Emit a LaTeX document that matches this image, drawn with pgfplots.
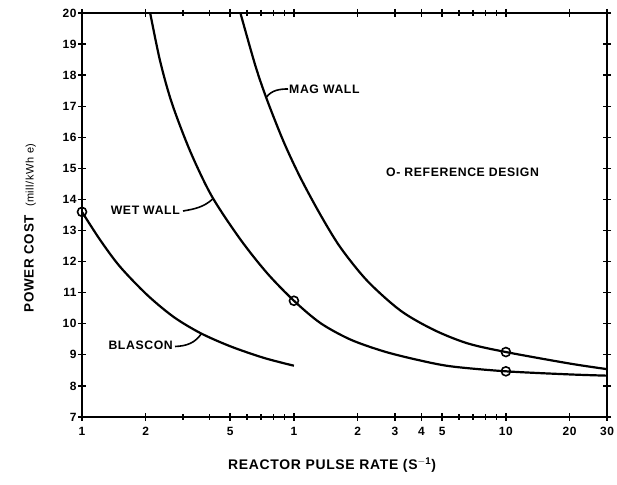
\documentclass[border=0pt]{standalone}
\usepackage{fontspec}
\setmainfont{Liberation Sans}[LetterSpace=5]
\usepackage{pgfplots}
\pgfplotsset{compat=1.18}
\begin{document}
\begin{tikzpicture}[x=1bp,y=1bp,font=\fontsize{12.3}{14}\selectfont\bfseries]
\useasboundingbox (0,0) rectangle (617,485);
\begin{axis}[
  at={(82bp,68bp)}, anchor=south west,
  width=525bp, height=404bp, scale only axis,
  xmode=log, xmin=0.1, xmax=30, ymin=7, ymax=20,
  xtick={0.1,0.2,0.5,1,2,3,4,5,10,20,30},
  xticklabels={1,2,5,1,2,3,4,5,10,20,30},
  minor xtick={0.3,0.4,0.6,0.7,0.8,0.9,6,7,8,9},
  ytick={7,8,...,20},
  tick align=center,
  major tick length=8bp, minor tick length=6bp,
  every tick/.style={black, line width=1.3bp},
  axis line style={line width=2bp},
  /pgf/number format/assume math mode=true,
  xticklabel style={font=\fontsize{12}{13}\selectfont\bfseries, yshift=-3bp},
  yticklabel style={font=\fontsize{12}{13}\selectfont\bfseries, xshift=2bp},
  clip=false,
]
% BLASCON
\addplot[black, line width=2.2bp, smooth, tension=0.5] coordinates {
 (0.1,13.6) (0.1217,12.70) (0.151,11.84) (0.2028,10.93) (0.2706,10.22)
 (0.362,9.70) (0.503,9.27) (0.723,8.90) (1.0,8.65)};
% WET WALL
\addplot[black, line width=2.2bp, smooth, tension=0.5] coordinates {
 (0.2097,20) (0.2337,18.45) (0.2655,17.1) (0.324,15.55) (0.41,14.1) (0.558,12.72)
 (0.747,11.63) (1,10.74) (1.335,10.02) (1.85,9.49) (2.66,9.11) (3.82,8.84)
 (5.5,8.63) (10,8.47) (20,8.37) (30,8.33)};
% MAG WALL
\addplot[black, line width=2.2bp, smooth, tension=0.5] coordinates {
 (0.559,20) (0.658,18.3) (0.747,17.2) (0.895,15.85) (1.073,14.7) (1.335,13.5)
 (1.659,12.45) (2.219,11.38) (3.188,10.42) (4.58,9.8) (6.59,9.37) (10,9.09)
 (20,8.72) (30,8.54)};
% Reference design points
\addplot[only marks, mark=o, mark size=4.5bp, mark options={line width=1.6bp, fill=white}, black] coordinates {
 (0.1,13.6) (1,10.74) (10,8.47) (10,9.09)};
\end{axis}
% annotations (picture coordinates)
\node[anchor=west, inner sep=0] at (289,396) {MAG WALL};
\draw[line width=1.6bp] (266.5,388) .. controls (272,395) and (280,396) .. (288,396);
\node[anchor=east, inner sep=0] at (180,275) {WET WALL};
\draw[line width=1.6bp] (183,274) .. controls (195,276) and (204,278) .. (212.7,286);
\node[anchor=east, inner sep=0] at (173,140) {BLASCON};
\draw[line width=1.6bp] (175,138.5) .. controls (187,139) and (195,142) .. (201.7,151.7);
\node[anchor=west, inner sep=0] at (386,313) {O- REFERENCE DESIGN};
\node[rotate=90] at (30,257) {{\fontsize{13.5}{15}\selectfont POWER COST}\ \ {\fontsize{11}{12}\selectfont\mdseries (mill/kWh e)}};
\node at (332,20) {\fontsize{14}{16}\selectfont REACTOR PULSE RATE (S$^{\mathbf{-1}}$)};
\end{tikzpicture}
\end{document}
